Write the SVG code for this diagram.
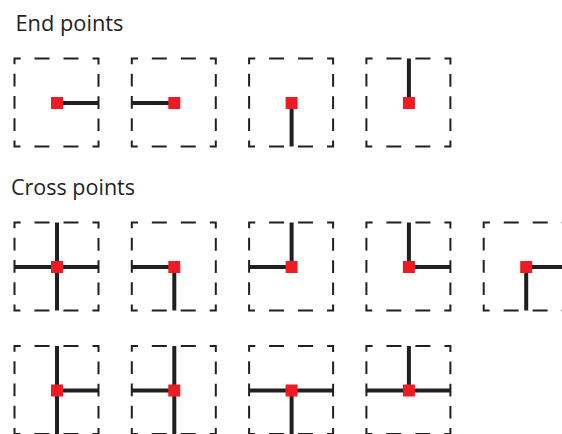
<svg xmlns="http://www.w3.org/2000/svg" xmlns:xlink="http://www.w3.org/1999/xlink" width="562" height="434" viewBox="0 0 562 434">
  <style>
    .title { font-family: "Open Sans", "Noto Sans", sans-serif; font-size: 21px; fill: #231f20; }
    .frame { fill: none; stroke: #231f20; stroke-width: 2; stroke-linejoin: miter;
             stroke-dasharray: 0 7 15 14 15 14 12 9.5 12.7 9.5 12.7 9.5 12.7 9.5 12 14 15 14 15 14 12 9.5 12.7 9.5 12.7 9.5 12.7 9.5 12 7; }
    .seg { fill: none; stroke: #231f20; stroke-width: 4; stroke-linecap: butt; }
    .pt { fill: #ed1c24; }
  </style>
  <defs>
    <path id="box" class="frame" d="M13,0 H84 V88 H0 V0 Z"/>
    <path id="R" class="seg" d="M42.5,44.5 H84"/>
    <path id="L" class="seg" d="M0,44.5 H42.5"/>
    <path id="U" class="seg" d="M42.5,0 V44.5"/>
    <path id="D" class="seg" d="M42.5,44.5 V88"/>
    <rect id="P" class="pt" x="36.5" y="38.5" width="12" height="12"/>
  </defs>

  <text class="title" x="15.5" y="30.7" textLength="108" lengthAdjust="spacingAndGlyphs">End points</text>
  <text class="title" x="11" y="195" textLength="124" lengthAdjust="spacingAndGlyphs">Cross points</text>

  <!-- End points row -->
  <g id="end-right" transform="translate(14.5,58.5)">
    <use xlink:href="#box"/><use xlink:href="#R"/><use xlink:href="#P"/>
  </g>
  <g id="end-left" transform="translate(131.8,58.5)">
    <use xlink:href="#box"/><use xlink:href="#L"/><use xlink:href="#P"/>
  </g>
  <g id="end-down" transform="translate(249.1,58.5)">
    <use xlink:href="#box"/><use xlink:href="#D"/><use xlink:href="#P"/>
  </g>
  <g id="end-up" transform="translate(366.4,58.5)">
    <use xlink:href="#box"/><use xlink:href="#U"/><use xlink:href="#P"/>
  </g>

  <!-- Cross points row 1 -->
  <g id="cross-full" transform="translate(14.5,222.5)">
    <use xlink:href="#box"/><use xlink:href="#L"/><use xlink:href="#R"/><use xlink:href="#U"/><use xlink:href="#D"/><use xlink:href="#P"/>
  </g>
  <g id="cross-left-down" transform="translate(131.8,222.5)">
    <use xlink:href="#box"/><use xlink:href="#L"/><use xlink:href="#D"/><use xlink:href="#P"/>
  </g>
  <g id="cross-left-up" transform="translate(249.1,222.5)">
    <use xlink:href="#box"/><use xlink:href="#L"/><use xlink:href="#U"/><use xlink:href="#P"/>
  </g>
  <g id="cross-up-right" transform="translate(366.4,222.5)">
    <use xlink:href="#box"/><use xlink:href="#U"/><use xlink:href="#R"/><use xlink:href="#P"/>
  </g>
  <g id="cross-right-down" transform="translate(483.7,222.5)">
    <use xlink:href="#box"/><use xlink:href="#R"/><use xlink:href="#D"/><use xlink:href="#P"/>
  </g>

  <!-- Cross points row 2 -->
  <g id="cross-vert-right" transform="translate(14.5,346)">
    <use xlink:href="#box"/><use xlink:href="#U"/><use xlink:href="#D"/><use xlink:href="#R"/><use xlink:href="#P"/>
  </g>
  <g id="cross-vert-left" transform="translate(131.8,346)">
    <use xlink:href="#box"/><use xlink:href="#U"/><use xlink:href="#D"/><use xlink:href="#L"/><use xlink:href="#P"/>
  </g>
  <g id="cross-horiz-down" transform="translate(249.1,346)">
    <use xlink:href="#box"/><use xlink:href="#L"/><use xlink:href="#R"/><use xlink:href="#D"/><use xlink:href="#P"/>
  </g>
  <g id="cross-horiz-up" transform="translate(366.4,346)">
    <use xlink:href="#box"/><use xlink:href="#L"/><use xlink:href="#R"/><use xlink:href="#U"/><use xlink:href="#P"/>
  </g>
</svg>
